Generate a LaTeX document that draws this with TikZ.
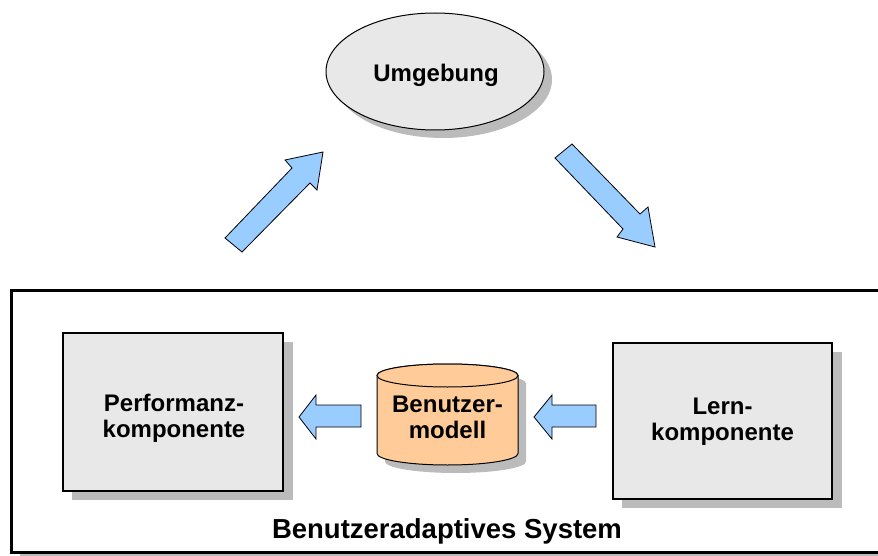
\documentclass[tikz,border=0pt]{standalone}
\usepackage{fontspec}
\setmainfont{Liberation Sans}
\usetikzlibrary{shapes.geometric}
\definecolor{boxgray}{HTML}{E8E8E8}
\definecolor{shadowgray}{HTML}{BBBBBB}
\definecolor{arrowblue}{HTML}{99CCFF}
\definecolor{cylorange}{HTML}{FFCC99}
\begin{document}
\begin{tikzpicture}[x=1pt,y=-1pt,
  lbl/.style={font=\fontsize{24}{26}\selectfont\bfseries, align=center, inner sep=0pt},
  boxnode/.style={draw=black, line width=1.5pt, fill=boxgray, rectangle, inner sep=0pt},
  shade/.style={fill=shadowgray, draw=none},
  cyl/.style={draw=black, line width=1pt, fill=cylorange},
  blockarrow/.style={draw=black, line width=0.8pt, fill=arrowblue, line join=miter}]
\useasboundingbox (0,0) rectangle (878,556);

% outer system box
\fill[shade] (20,299) rectangle (895,565);
\draw[line width=3pt, fill=white] (11,290) rectangle (895,552);
\node[font=\fontsize{27.5}{30}\selectfont\bfseries, anchor=base, inner sep=0pt] (syslabel) at (447,538) {Benutzeradaptives System};

% environment ellipse
\fill[shade] (443,79.5) ellipse [x radius=109, y radius=58.5];
\node[ellipse, draw=black, line width=1pt, fill=boxgray, minimum width=218pt, minimum height=117pt, inner sep=0pt] (env) at (435,71.5) {};
\node[lbl, anchor=base] (envlabel) at (436,82) {Umgebung};

% performance component
\fill[shade] (72,342) rectangle (293,500);
\node[boxnode, minimum width=220pt, minimum height=158pt] (perf) at (173,412) {};
\node[lbl] (perflabel) at (174,418.75) {Performanz-\\komponente};

% learning component
\fill[shade] (622,352) rectangle (842,508);
\node[boxnode, minimum width=219pt, minimum height=156pt] (lern) at (722.5,421) {};
\node[lbl] (lernlabel) at (722.5,421.75) {Lern-\\komponente};

% user model cylinder
\fill[shade] (385,383.5) -- (385,461.5) arc[start angle=180, end angle=0, x radius=70.5, y radius=11.5]
  -- (526,383.5) arc[start angle=0, end angle=-180, x radius=70.5, y radius=11.5] -- cycle;
\filldraw[cyl] (377,375.5) -- (377,453.5) arc[start angle=180, end angle=0, x radius=70.5, y radius=11.5]
  -- (518,375.5) arc[start angle=0, end angle=-180, x radius=70.5, y radius=11.5] -- cycle;
\draw[cyl] (447.5,375.5) ellipse [x radius=70.5, y radius=11.5];
\node[inner sep=0pt, minimum width=141pt, minimum height=101pt] (model) at (447.5,414.5) {};
\node[lbl] (modellabel) at (447.5,417.5) {Benutzer-\\modell};

% block arrows
\filldraw[blockarrow] (242,252) -- (310,183) -- (317,190) -- (323,152) -- (285,160) -- (292,168) -- (225,238) -- cycle;
\filldraw[blockarrow] (555,158) -- (572,144) -- (640,214) -- (648,207) -- (655,247) -- (617,237) -- (623,229) -- cycle;
\filldraw[blockarrow] (299,417) -- (316,395) -- (316,405) -- (361,405) -- (361,427) -- (316,427) -- (316,439) -- cycle;
\filldraw[blockarrow] (534,417) -- (552,395) -- (552,405) -- (596,405) -- (596,427) -- (552,427) -- (552,439) -- cycle;
\end{tikzpicture}
\end{document}
